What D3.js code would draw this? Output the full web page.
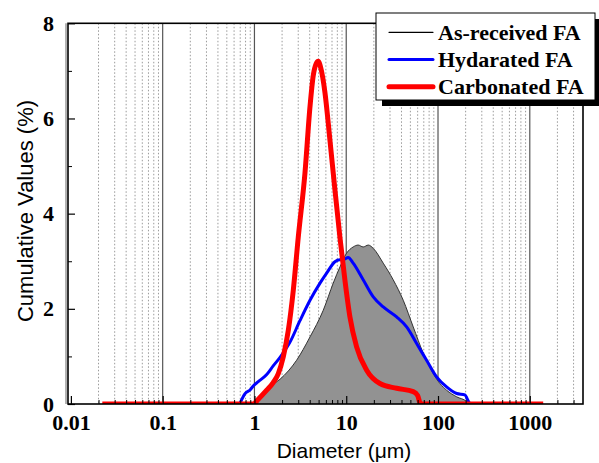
<!DOCTYPE html>
<html>
<head>
<meta charset="utf-8">
<script src="https://cdn.jsdelivr.net/npm/d3@7"></script>
<style>
  html, body { margin: 0; padding: 0; background: #fff; }
  svg { display: block; }
  .tick-label { font-family: "Liberation Serif", "Times New Roman", serif; font-weight: bold; font-size: 22px; fill: #000; }
  .axis-title { font-family: "Liberation Sans", Arial, sans-serif; fill: #000; }
  .legend-text { font-family: "Liberation Serif", "Times New Roman", serif; font-weight: bold; font-size: 22px; fill: #000; }
</style>
</head>
<body>
<svg id="chart" width="599" height="463"></svg>
<script>
// Particle size distributions (diameter in µm, value in %)
const asReceivedD = [1.0, 1.1, 1.36, 1.9, 2.88, 4.03, 5.62, 7.22, 8.54, 10.1, 11.9, 13.5, 15.3, 17.4, 19.7, 25.3, 32.5, 41.8, 53.7, 69, 88.7, 105, 124, 160, 205, 215];
const asReceivedV = [0, 0.12, 0.33, 0.52, 0.92, 1.41, 1.97, 2.54, 2.88, 3.17, 3.30, 3.34, 3.30, 3.34, 3.27, 2.96, 2.61, 2.18, 1.62, 1.07, 0.64, 0.43, 0.29, 0.15, 0.05, 0];

const hydratedD = [0.69, 0.79, 0.9, 0.97, 1.1, 1.36, 1.6, 1.9, 2.44, 3.13, 4.03, 5.18, 6.12, 7.53, 8.5, 9.27, 10.5, 11.9, 15.3, 19.7, 25.3, 35.4, 45.5, 58.5, 75.1, 96.5, 124, 160, 196, 215, 223];
const hydratedV = [0, 0.22, 0.3, 0.38, 0.47, 0.62, 0.8, 0.98, 1.3, 1.75, 2.18, 2.54, 2.75, 2.99, 3.03, 3.03, 3.08, 2.96, 2.61, 2.25, 2.04, 1.83, 1.62, 1.27, 0.92, 0.57, 0.36, 0.22, 0.19, 0.05, 0];

const carbonatedD = [0.022, 0.5, 0.97, 1.1, 1.36, 1.6, 1.82, 2.06, 2.34, 2.65, 3.0, 3.55, 4.03, 4.37, 4.7, 4.95, 5.3, 5.86, 6.64, 7.53, 8.54, 9.68, 10.97, 12.97, 16.7, 23.3, 35.4, 53.7, 60, 64.6, 1400];
const carbonatedV = [0, 0, 0, 0.1, 0.29, 0.45, 0.64, 0.99, 1.55, 2.39, 3.5, 4.85, 6.25, 6.9, 7.15, 7.2, 7.05, 6.55, 5.55, 4.5, 3.5, 2.6, 1.83, 1.2, 0.71, 0.43, 0.33, 0.26, 0.18, 0, 0];

const xTickValues = [0.01, 0.1, 1, 10, 100, 1000];
const xTickLabels = ["0.01", "0.1", "1", "10", "100", "1000"];
const yTickValues = [0, 2, 4, 6, 8];
const yMinorValues = [1, 3, 5, 7];

const seriesNames = ["As-received FA", "Hydarated FA", "Carbonated FA"];
const seriesColors = ["#000000", "#0000ff", "#ff0000"];
const legendWidths = [1.2, 3, 5];

const svg = d3.select("#chart");
const L = 68, R = 583, T = 23.3, B = 404;

const x = d3.scaleLog().domain([0.0093, 3800]).range([L, R]);
const y = d3.scaleLinear().domain([0, 8]).range([B, T]);

// vertical grid: dotted at minor positions, solid at decades
const minor = [];
for (let e = -2; e <= 3; e++) {
  for (let m = 2; m <= 9; m++) {
    const v = m * Math.pow(10, e);
    if (v < 3800) minor.push(v);
  }
}
const decades = [0.1, 1, 10, 100, 1000];

svg.append("g").selectAll("line").data(minor).join("line")
  .attr("x1", d => x(d)).attr("x2", d => x(d))
  .attr("y1", T).attr("y2", B)
  .attr("stroke", "#9a9a9a").attr("stroke-width", 1)
  .attr("stroke-dasharray", "1.5,2");

svg.append("g").selectAll("line").data(decades).join("line")
  .attr("x1", d => x(d)).attr("x2", d => x(d))
  .attr("y1", T).attr("y2", B)
  .attr("stroke", "#555").attr("stroke-width", 1.2);

// clip curves to plotting area
svg.append("defs").append("clipPath").attr("id", "plotClip")
  .append("rect").attr("x", L).attr("y", T).attr("width", R - L).attr("height", B - T);

const plot = svg.append("g").attr("clip-path", "url(#plotClip)");

const toPts = (ds, vs) => ds.map((d, i) => [d, vs[i]]);

const area = d3.area()
  .x(d => x(d[0])).y0(y(0)).y1(d => y(d[1]))
  .curve(d3.curveMonotoneX);
const line = d3.line()
  .x(d => x(d[0])).y(d => y(d[1]))
  .curve(d3.curveMonotoneX);

const grayPts = toPts(asReceivedD, asReceivedV);
plot.append("path").datum(grayPts).attr("d", area).attr("fill", "#929292");
plot.append("path").datum(grayPts).attr("d", line)
  .attr("fill", "none").attr("stroke", "#333").attr("stroke-width", 1);

plot.append("path").datum(toPts(hydratedD, hydratedV)).attr("d", line)
  .attr("fill", "none").attr("stroke", "#0000ff").attr("stroke-width", 3)
  .attr("stroke-linejoin", "round");

plot.append("path").datum(toPts(carbonatedD, carbonatedV)).attr("d", line)
  .attr("fill", "none").attr("stroke", "#ff0000").attr("stroke-width", 5)
  .attr("stroke-linejoin", "round");

// bottom axis
const xAxis = svg.append("g").attr("transform", `translate(0,${B})`)
  .call(d3.axisBottom(x).tickValues(xTickValues)
    .tickFormat((d, i) => xTickLabels[i]).tickSize(-8).tickPadding(10).tickSizeOuter(0));
xAxis.select(".domain").remove();
xAxis.selectAll(".tick line").attr("stroke", "#000").attr("stroke-width", 1.2);
xAxis.selectAll(".tick text").attr("class", "tick-label").attr("font-size", null).attr("font-family", null);

const xMinor = svg.append("g").attr("transform", `translate(0,${B})`)
  .call(d3.axisBottom(x).tickValues(minor).tickFormat("").tickSize(-4).tickSizeOuter(0));
xMinor.select(".domain").remove();
xMinor.selectAll(".tick line").attr("stroke", "#000").attr("stroke-width", 1);

// left axis
const yAxis = svg.append("g").attr("transform", `translate(${L},0)`)
  .call(d3.axisLeft(y).tickValues(yTickValues).tickFormat(d3.format("d"))
    .tickSize(-7).tickPadding(14).tickSizeOuter(0));
yAxis.select(".domain").remove();
yAxis.selectAll(".tick line").attr("stroke", "#000").attr("stroke-width", 1.2);
yAxis.selectAll(".tick text").attr("class", "tick-label").attr("font-size", null).attr("font-family", null);

const yMinor = svg.append("g").attr("transform", `translate(${L},0)`)
  .call(d3.axisLeft(y).tickValues(yMinorValues).tickFormat("").tickSize(-4).tickSizeOuter(0));
yMinor.select(".domain").remove();
yMinor.selectAll(".tick line").attr("stroke", "#000").attr("stroke-width", 1);

// frame
svg.append("line").attr("x1", L - 2).attr("x2", L - 2).attr("y1", T).attr("y2", B)
  .attr("stroke", "#999").attr("stroke-width", 1.5);
svg.append("rect").attr("x", L).attr("y", T).attr("width", R - L).attr("height", B - T)
  .attr("fill", "none").attr("stroke", "#000").attr("stroke-width", 1.6);

// axis titles
svg.append("text").attr("class", "axis-title")
  .attr("x", 344).attr("y", 458).attr("text-anchor", "middle")
  .attr("font-size", 21).text("Diameter (\u03bcm)");
svg.append("text").attr("class", "axis-title")
  .attr("transform", "translate(33,211) rotate(-90)").attr("text-anchor", "middle")
  .attr("font-size", 22).text("Cumulative Values (%)");

// legend with drop shadow
const lg = svg.append("g");
lg.append("rect").attr("x", 382).attr("y", 19).attr("width", 219).attr("height", 87).attr("fill", "#000");
lg.append("rect").attr("x", 376).attr("y", 13).attr("width", 219).attr("height", 87)
  .attr("fill", "#fff").attr("stroke", "#000").attr("stroke-width", 1);
const rowY = [32.3, 59.5, 86.8];
seriesNames.forEach((name, i) => {
  lg.append("line").attr("x1", 389).attr("x2", 433).attr("y1", rowY[i]).attr("y2", rowY[i])
    .attr("stroke", seriesColors[i]).attr("stroke-width", legendWidths[i]).attr("stroke-linecap", "round");
  lg.append("text").attr("class", "legend-text").attr("x", 438).attr("y", rowY[i] + 7.5).text(name);
});
</script>
</body>
</html>
